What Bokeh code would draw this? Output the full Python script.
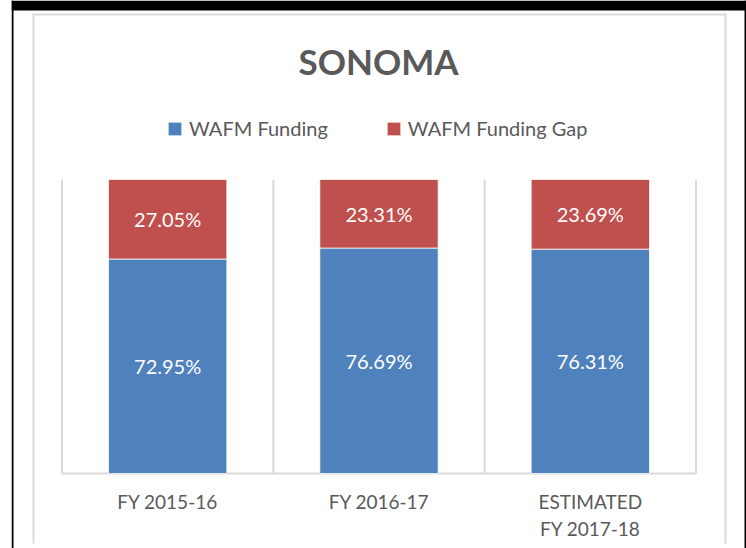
from bokeh.plotting import figure
from bokeh.models import (ColumnDataSource, BoxAnnotation, Label, Legend,
                          LegendItem, LabelSet, FactorRange, Range1d)
from bokeh.embed import file_html
from bokeh.resources import INLINE
from bokeh.core.properties import value

# ---- data ----
title_text = "SONOMA"
categories = ["FY 2015-16", "FY 2016-17", "ESTIMATED\nFY 2017-18"]
funding = [72.95, 76.69, 76.31]
funding_gap = [27.05, 23.31, 23.69]
series_names = ["WAFM Funding", "WAFM Funding Gap"]
series_colors = ["#4F81BD", "#C0504D"]

FONT = "Lato"
TEXT_GRAY = "#595959"
LINE_GRAY = "#D9D9D9"

# ---- layout (pixels) ----
W, H = 746, 548
FRAME_LEFT = 11                 # frame spans 11..746 horizontally, 0..548 vertically
PLOT_L, PLOT_R = 62, 696        # category area
PLOT_TOP, PLOT_BOT = 179, 473   # 100% .. 0%

n = len(categories)
frame_w = W - FRAME_LEFT
pad_px = (frame_w - (PLOT_R - PLOT_L)) / 2
cat_px = (PLOT_R - PLOT_L) / n
range_pad = 2 * (pad_px / cat_px) / n
px_per_unit = (PLOT_BOT - PLOT_TOP) / 100.0
y_top = PLOT_BOT / px_per_unit
y_bot = -(H - PLOT_BOT) / px_per_unit

source = ColumnDataSource(dict(
    cat=categories,
    fund=funding,
    gap=funding_gap,
    fund_mid=[f / 2 for f in funding],
    gap_mid=[f + g / 2 for f, g in zip(funding, funding_gap)],
    fund_lbl=[f"{v:.2f}%" for v in funding],
    gap_lbl=[f"{v:.2f}%" for v in funding_gap],
))

p = figure(width=W, height=H,
           x_range=FactorRange(*categories, range_padding=range_pad, range_padding_units="percent"),
           y_range=Range1d(y_bot, y_top),
           output_backend="svg", toolbar_location=None, y_axis_location=None,
           min_border_left=FRAME_LEFT, min_border_right=0, min_border_top=0, min_border_bottom=0,
           background_fill_color="white", border_fill_color="white", outline_line_color=None)

p.xgrid.visible = False
p.ygrid.visible = False

# frame decorations
def box(l, r, t, b, color):
    p.add_layout(BoxAnnotation(left=l, right=r, top=t, bottom=b,
                               left_units="canvas", right_units="canvas",
                               top_units="canvas", bottom_units="canvas",
                               fill_color=color, fill_alpha=1, line_color=None,
                               level="underlay"))

box(11, 746, 0, 10, "black")
box(11, 13, 0, 548, "black")
box(744, 746, 0, 548, "black")
box(32, 726, 13, 15, LINE_GRAY)
box(32, 34, 13, 543, LINE_GRAY)
box(724, 726, 13, 543, LINE_GRAY)

# category separator lines and baseline
bounds = list(range(n + 1))
p.segment(x0=bounds, y0=[0] * len(bounds), x1=bounds, y1=[100] * len(bounds),
          line_color=LINE_GRAY, line_width=2)
p.segment(x0=[0], y0=[0], x1=[n], y1=[0], line_color=LINE_GRAY, line_width=2)

renderers = p.vbar_stack(["fund", "gap"], x="cat", width=0.56, source=source,
                         fill_color=series_colors, line_color="white", line_width=0.75)

ax = p.xaxis[0]
ax.fixed_location = 0
ax.axis_line_color = None
ax.major_tick_line_color = None
ax.minor_tick_line_color = None
ax.major_label_text_font = FONT
ax.major_label_text_font_size = "19px"
ax.major_label_text_color = TEXT_GRAY
ax.major_label_standoff = 10
ax.major_label_text_line_height = 1.2

for ycol, tcol in (("fund_mid", "fund_lbl"), ("gap_mid", "gap_lbl")):
    p.add_layout(LabelSet(x="cat", y=ycol, text=tcol, source=source,
                          text_align="center", text_baseline="middle",
                          text_color="white", text_font=value(FONT),
                          text_font_size="20px"))

legend = Legend(items=[LegendItem(label=nm, renderers=[r]) for nm, r in zip(series_names, renderers)],
                orientation="horizontal", location=(166 - FRAME_LEFT, H - 140),
                glyph_width=17, glyph_height=17, label_standoff=6, spacing=57,
                padding=0, margin=0, border_line_color=None, background_fill_alpha=0,
                label_text_font=FONT, label_text_font_size="20px", label_text_color=TEXT_GRAY)
p.add_layout(legend)

# title
p.add_layout(Label(x=378, y=60, x_units="canvas", y_units="canvas", text=title_text,
                   text_font=FONT, text_font_style="bold", text_font_size="35px",
                   text_color=TEXT_GRAY, text_align="center", text_baseline="middle"))

open("out.html", "w").write(file_html(p, INLINE))
